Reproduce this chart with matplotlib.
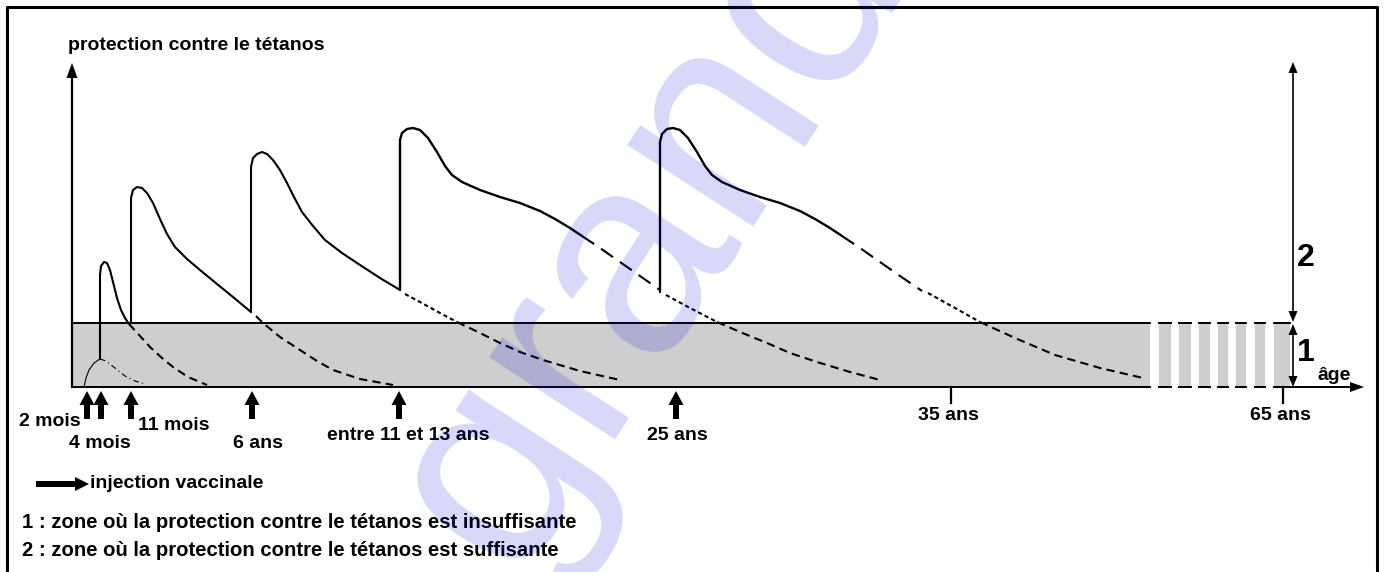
import matplotlib.pyplot as plt
from matplotlib.patches import Rectangle, FancyArrow

plt.rcParams['font.family'] = ['Liberation Sans', 'DejaVu Sans']

# picture coordinates (px), y grows downward
# vaccine injections under the age axis
inj_labels = ["2 mois", "4 mois", "11 mois", "6 ans", "entre 11 et 13 ans", "25 ans"]
inj_x = [87, 101, 131, 252, 399, 676]

age_tick_x = [951, 1283]
age_tick_labels = ["35 ans", "65 ans"]

# insufficient-protection band and its broken part
band_x = [72, 1150]
band_y = [323, 387]
stripe_x0 = [1159, 1179, 1199, 1218, 1236, 1255, 1274]
stripe_x1 = [1171, 1191, 1210, 1228, 1246, 1265, 1290]

# response to each injection
r1_solid = [(84, 387), (86, 378), (89, 370), (94, 363), (100, 359)]
r1_tail = [(100, 359), (106, 361), (115, 368), (125, 376), (135, 381), (145, 384)]

r2_solid = [(100, 359), (100, 275), (101, 266), (104, 262), (107, 263), (110, 270),
            (113, 282), (117, 298), (121, 310), (125, 318), (129, 324)]
r2_tail = [(129, 324), (140, 336), (150, 347), (162, 358), (173, 367), (188, 377), (207, 385)]

r3_solid = [(131, 323), (131, 198), (133, 190), (137, 187), (142, 188), (147, 193),
            (153, 203), (160, 219), (167, 234), (175, 247), (187, 259), (200, 270),
            (217, 284), (233, 297), (251, 312)]
r3_tail = [(256, 316), (263, 323), (280, 337), (300, 350), (317, 361), (333, 370),
           (360, 379), (393, 385)]

r4_solid = [(251, 312), (251, 167), (253, 158), (257, 154), (262, 152), (267, 154),
            (273, 160), (280, 170), (287, 183), (294, 197), (302, 212), (313, 226),
            (325, 240), (342, 253), (360, 265), (380, 278), (400, 290)]
r4_dot = [(405, 294), (420, 302), (440, 313), (457, 322)]
r4_tail = [(457, 322), (478, 332), (500, 343), (520, 352), (543, 360), (580, 371), (620, 380)]

r5_solid = [(400, 290), (400, 140), (402, 133), (407, 129), (413, 128), (420, 130),
            (428, 138), (437, 152), (445, 166), (452, 175), (462, 182), (480, 190),
            (500, 197), (520, 203), (540, 211), (555, 219), (570, 228), (582, 236)]
r5_long = [(582, 236), (600, 248), (620, 262), (640, 276), (660, 290)]
r5_dot = [(666, 295), (690, 308), (717, 322)]
r5_tail = [(717, 322), (740, 332), (767, 343), (790, 353), (817, 362), (850, 372), (880, 380)]

r6_solid = [(660, 292), (660, 142), (662, 134), (667, 129), (673, 128), (680, 130),
            (688, 138), (697, 152), (705, 166), (712, 175), (722, 182), (740, 190),
            (760, 197), (780, 203), (800, 211), (815, 219), (830, 228), (842, 236)]
r6_long = [(842, 236), (860, 248), (880, 262), (900, 276), (922, 291)]
r6_dot = [(928, 293), (955, 308), (980, 322)]
r6_tail = [(980, 322), (1015, 338), (1055, 355), (1100, 368), (1143, 378)]

legend_lines = ["1 : zone où la protection contre le tétanos est insuffisante",
                "2 : zone où la protection contre le tétanos est suffisante"]


def draw_curve(ax, pts, **kw):
    xs = [p[0] for p in pts]
    ys = [p[1] for p in pts]
    ax.plot(xs, ys, color="black", solid_joinstyle="round", solid_capstyle="round", **kw)


def up_arrow(ax, x, tip, bottom, shaft=6, head_w=15, head_l=14):
    ax.add_patch(FancyArrow(x, bottom, 0, tip - bottom, width=shaft, head_width=head_w,
                            head_length=head_l, length_includes_head=True,
                            color="black", lw=0))


def main():
    fig = plt.figure(figsize=(13.84, 5.72), dpi=100)
    ax = fig.add_axes([0, 0, 1, 1])
    ax.set_xlim(0, 1384)
    ax.set_ylim(572, 0)
    ax.axis("off")

    # outer frame
    ax.plot([7, 7, 1377, 1377], [580, 7, 7, 580], color="black", lw=2.2)

    # grey band (zone 1)
    ax.add_patch(Rectangle((band_x[0], band_y[0]), band_x[1] - band_x[0],
                           band_y[1] - band_y[0], facecolor="#cecece", edgecolor="none"))
    for y in band_y:
        ax.plot(band_x, [y, y], color="black", lw=1.4)
    for x0, x1 in zip(stripe_x0, stripe_x1):
        ax.add_patch(Rectangle((x0, band_y[0]), x1 - x0, band_y[1] - band_y[0],
                               facecolor="#cecece", edgecolor="none"))
        for y in band_y:
            ax.plot([x0, x1], [y, y], color="black", lw=1.4)

    # y axis
    ax.plot([72, 72], [387, 76], color="black", lw=1.6)
    ax.add_patch(FancyArrow(72, 80, 0, -17, width=0, head_width=11, head_length=15,
                            length_includes_head=True, color="black", lw=0))
    ax.text(68, 45, "protection contre le tétanos", fontsize=14, fontweight="bold",
            ha="left", va="center")

    # age axis
    ax.plot([1288, 1352], [387, 387], color="black", lw=1.4)
    ax.add_patch(FancyArrow(1345, 387, 19, 0, width=0, head_width=10, head_length=14,
                            length_includes_head=True, color="black", lw=0))
    ax.text(1317, 375, "âge", fontsize=14, fontweight="bold", ha="left", va="center")
    for x, lab in zip(age_tick_x, age_tick_labels):
        ax.plot([x, x], [387, 403], color="black", lw=1.6)
        ax.text(x - 3, 416, lab, fontsize=14, fontweight="bold", ha="center", va="center")

    # zone brackets on the right
    bx = 1293
    ax.plot([bx, bx], [70, 316], color="black", lw=1.2)
    ax.plot([bx, bx], [330, 380], color="black", lw=1.2)
    for tip, d in [(62, 1), (322, -1), (324, 1), (387, -1)]:
        ax.add_patch(FancyArrow(bx, tip + d * 11, 0, -d * 11, width=0, head_width=9,
                                head_length=11, length_includes_head=True,
                                color="black", lw=0))
    ax.text(1297, 258, "2", fontsize=23, fontweight="bold", ha="left", va="center")
    ax.text(1297, 353, "1", fontsize=23, fontweight="bold", ha="left", va="center")

    # responses to injections
    draw_curve(ax, r1_solid, lw=0.8)
    draw_curve(ax, r1_tail, lw=0.8, ls=(0, (5, 3, 1, 3)))
    for solid, tail in [(r2_solid, r2_tail), (r3_solid, r3_tail)]:
        draw_curve(ax, solid, lw=1.5)
        draw_curve(ax, tail, lw=1.5, ls=(0, (4, 2.5)))
    draw_curve(ax, r4_solid, lw=1.5)
    draw_curve(ax, r4_dot, lw=1.5, ls=(0, (2, 1.5)))
    draw_curve(ax, r4_tail, lw=1.5, ls=(0, (4, 2.5)))
    for solid, long, dot, tail in [(r5_solid, r5_long, r5_dot, r5_tail),
                                   (r6_solid, r6_long, r6_dot, r6_tail)]:
        draw_curve(ax, solid, lw=1.7)
        draw_curve(ax, long, lw=1.5, ls=(0, (7, 4)))
        draw_curve(ax, dot, lw=1.5, ls=(0, (2, 1.5)))
        draw_curve(ax, tail, lw=1.5, ls=(0, (4, 2.5)))

    # injection arrows and labels
    for x in inj_x:
        up_arrow(ax, x, 391, 419)
    ax.text(81, 421, inj_labels[0], fontsize=14, fontweight="bold", ha="right", va="center")
    ax.text(100, 443, inj_labels[1], fontsize=14, fontweight="bold", ha="center", va="center")
    ax.text(138, 426, inj_labels[2], fontsize=14, fontweight="bold", ha="left", va="center")
    ax.text(258, 443, inj_labels[3], fontsize=14, fontweight="bold", ha="center", va="center")
    ax.text(408, 435, inj_labels[4], fontsize=14, fontweight="bold", ha="center", va="center")
    ax.text(677, 436, inj_labels[5], fontsize=14, fontweight="bold", ha="center", va="center")

    # legend
    ax.add_patch(FancyArrow(36, 484, 53, 0, width=6, head_width=14, head_length=14,
                            length_includes_head=True, color="black", lw=0))
    ax.text(90, 484, "injection vaccinale", fontsize=14, fontweight="bold",
            ha="left", va="center")
    ax.text(22, 522, legend_lines[0], fontsize=14.6, fontweight="bold", ha="left", va="center")
    ax.text(22, 551, legend_lines[1], fontsize=14.6, fontweight="bold", ha="left", va="center")

    # site watermark
    ax.text(650, 232, "grand", fontsize=205, rotation=57, color=(0, 0, 0.87), alpha=0.155,
            ha="center", va="center", rotation_mode="anchor", zorder=10)

    fig.savefig("out.png", dpi=100)


if __name__ == "__main__":
    main()
